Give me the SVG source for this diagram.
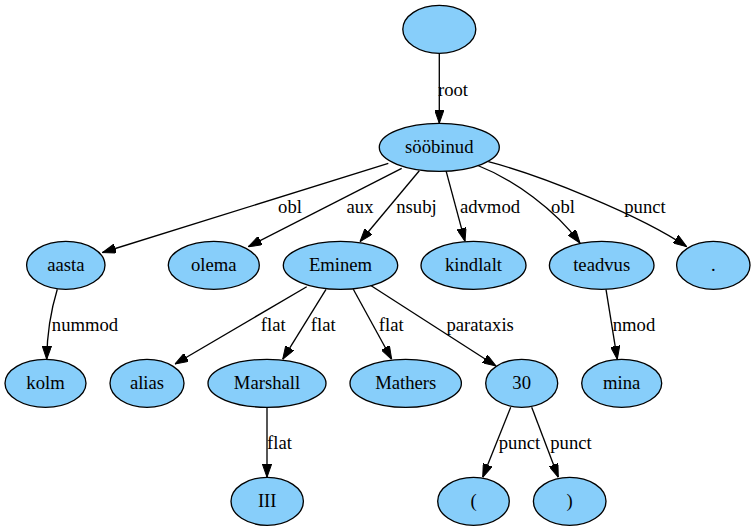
<svg xmlns="http://www.w3.org/2000/svg" width="755" height="531" viewBox="0 0 755 531">
  <defs>
    <marker id="arrow" markerUnits="userSpaceOnUse" viewBox="0 0 13.33 9.33" markerWidth="13.33" markerHeight="9.33" refX="13.33" refY="4.67" orient="auto">
      <path d="M0,0 L13.33,4.67 L0,9.33 z" fill="#000" stroke="#000" stroke-width="1"/>
    </marker>
  </defs>
  <style>
    .node ellipse { fill: #87cefa; stroke: #000; stroke-width: 1.33; }
    .edge path { fill: none; stroke: #000; stroke-width: 1.33; marker-end: url(#arrow); }
    text { font-size: 18.67px; text-anchor: middle; fill: #000; }
  </style>
  <rect width="755" height="531" fill="#fff"/>

  <g font-family="Liberation Serif, Times New Roman, serif">
  <!-- connectors -->
  <g id="edges">
    <g class="edge" id="e-root"><path d="M439.3,53.3 L439.3,123.3"/><text x="453" y="95.5">root</text></g>
    <g class="edge" id="e-aasta"><path d="M388.3,163.3 L102.5,252.5"/><text x="290" y="213">obl</text></g>
    <g class="edge" id="e-olema"><path d="M401.7,168.3 L248.3,246.7"/><text x="360" y="213">aux</text></g>
    <g class="edge" id="e-eminem"><path d="M419.3,170.7 L360,241.7"/><text x="416.5" y="213">nsubj</text></g>
    <g class="edge" id="e-kindlalt"><path d="M446,170.7 L465,241.3"/><text x="490" y="213">advmod</text></g>
    <g class="edge" id="e-teadvus"><path d="M476.7,165 C515,180 555,210 580,243"/><text x="563" y="213">obl</text></g>
    <g class="edge" id="e-dot"><path d="M488.3,161.7 C540,175 640,215 686.7,246.7"/><text x="645" y="213">punct</text></g>
    <g class="edge" id="e-kolm"><path d="M57.3,289.3 C51,310 47,335 46.7,359.3"/><text x="85" y="331">nummod</text></g>
    <g class="edge" id="e-alias"><path d="M306.7,286.7 L175,364"/><text x="273.3" y="331">flat</text></g>
    <g class="edge" id="e-marshall"><path d="M326,289.3 L282.7,359.3"/><text x="323.3" y="331">flat</text></g>
    <g class="edge" id="e-mathers"><path d="M353.3,289.3 L391.7,359.3"/><text x="391.3" y="331">flat</text></g>
    <g class="edge" id="e-30"><path d="M370,285 L496,366"/><text x="480.2" y="331">parataxis</text></g>
    <g class="edge" id="e-mina"><path d="M606,289.3 L617.3,359.3"/><text x="634" y="331">nmod</text></g>
    <g class="edge" id="e-iii"><path d="M267,407.3 L267,477.3"/><text x="279.5" y="449">flat</text></g>
    <g class="edge" id="e-lparen"><path d="M510.7,407.3 L482.7,477.3"/><text x="519.5" y="449">punct</text></g>
    <g class="edge" id="e-rparen"><path d="M531.7,407.3 L558.3,477.3"/><text x="571" y="449">punct</text></g>
  </g>

  <!-- nodes -->
  <g class="node" id="n0"><ellipse cx="439.3" cy="29.3" rx="36.5" ry="24"/></g>
  <g class="node" id="n-soobinud"><ellipse cx="439.3" cy="147.3" rx="60" ry="24"/><text x="439.3" y="153.3">sööbinud</text></g>
  <g class="node" id="n-aasta"><ellipse cx="65.8" cy="265.3" rx="39.2" ry="24"/><text x="65.8" y="271.3">aasta</text></g>
  <g class="node" id="n-olema"><ellipse cx="213.8" cy="265.3" rx="45.5" ry="24"/><text x="213.8" y="271.3">olema</text></g>
  <g class="node" id="n-eminem"><ellipse cx="340.5" cy="265.3" rx="57.2" ry="24"/><text x="340.5" y="271.3">Eminem</text></g>
  <g class="node" id="n-kindlalt"><ellipse cx="473.5" cy="265.3" rx="52.5" ry="24"/><text x="473.5" y="271.3">kindlalt</text></g>
  <g class="node" id="n-teadvus"><ellipse cx="601.7" cy="265.3" rx="52.3" ry="24"/><text x="601.7" y="271.3">teadvus</text></g>
  <g class="node" id="n-dot"><ellipse cx="713.3" cy="265.3" rx="36.7" ry="24"/><text x="713.3" y="271.3">.</text></g>
  <g class="node" id="n-kolm"><ellipse cx="45.5" cy="383.3" rx="40.5" ry="24"/><text x="45.5" y="389.3">kolm</text></g>
  <g class="node" id="n-alias"><ellipse cx="147" cy="383.3" rx="37" ry="24"/><text x="147" y="389.3">alias</text></g>
  <g class="node" id="n-marshall"><ellipse cx="267" cy="383.3" rx="59" ry="24"/><text x="267" y="389.3">Marshall</text></g>
  <g class="node" id="n-mathers"><ellipse cx="405.7" cy="383.3" rx="55.7" ry="24"/><text x="405.7" y="389.3">Mathers</text></g>
  <g class="node" id="n-30"><ellipse cx="521.7" cy="383.3" rx="36" ry="24"/><text x="521.7" y="389.3">30</text></g>
  <g class="node" id="n-mina"><ellipse cx="621.7" cy="383.3" rx="40" ry="24"/><text x="621.7" y="389.3">mina</text></g>
  <g class="node" id="n-iii"><ellipse cx="267.2" cy="501.3" rx="36.2" ry="24"/><text x="267.2" y="507.3">III</text></g>
  <g class="node" id="n-lparen"><ellipse cx="473.5" cy="501.3" rx="35.8" ry="24"/><text x="473.5" y="507.3">(</text></g>
  <g class="node" id="n-rparen"><ellipse cx="569.7" cy="501.3" rx="36.3" ry="24"/><text x="569.7" y="507.3">)</text></g>
  </g>
</svg>
